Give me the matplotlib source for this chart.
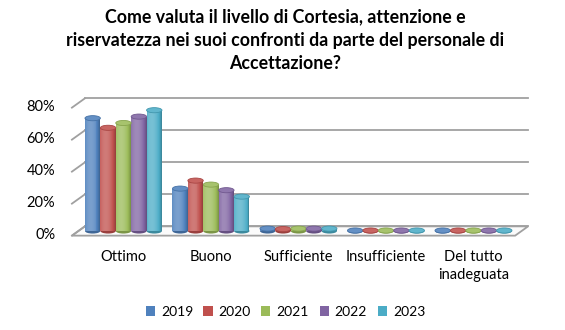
import numpy as np
import matplotlib
matplotlib.use('Agg')
import matplotlib.pyplot as plt
from matplotlib.patches import Ellipse, Polygon, Patch
from matplotlib.colors import to_rgb

plt.rcParams['font.family'] = ['Lato', 'DejaVu Sans']

# data (percent)
categories = ['Ottimo', 'Buono', 'Sufficiente', 'Insufficiente', 'Del tutto\ninadeguata']
years = ['2019', '2020', '2021', '2022', '2023']
v2019 = [70.5, 26.5, 1.5, 0.3, 0.3]
v2020 = [64.5, 31.5, 1.2, 0.3, 0.3]
v2021 = [67.5, 29.0, 1.5, 0.3, 0.3]
v2022 = [71.5, 25.5, 1.5, 0.3, 0.3]
v2023 = [75.5, 21.5, 1.5, 0.3, 0.3]
series = [v2019, v2020, v2021, v2022, v2023]
colors = ['#4F81BD', '#C0504D', '#9BBB59', '#8064A2', '#4BACC6']
yticks = [0, 20, 40, 60, 80]
title = ('Come valuta il livello di Cortesia, attenzione e\n'
         'riservatezza nei suoi confronti da parte del personale di\n'
         'Accettazione?')

# 3d-ish geometry (data units)
bw = 0.176          # bar width
ddx, ddy = 0.074, 2.9   # half depth offset
x0, x1 = -0.515, 4.55   # floor extent at mid depth
ell_h = 3.2         # ellipse height in %


def shade(c, s):
    c = np.array(to_rgb(c))
    if s >= 0:
        return tuple(c + (1 - c) * s)
    return tuple(c * (1 + s))


fig = plt.figure(figsize=(5.65, 3.3), dpi=100)
ax = fig.add_axes([0, 0, 1, 1])
ax.set_xlim(-1.411, 5.046)
ax.set_ylim(-61.875, 144.375)
ax.axis('off')

grid_c = '#A0A0A0'
# floor
floor = Polygon([(x0 - ddx, -ddy), (x1 - ddx, -ddy), (x1 + ddx, ddy), (x0 + ddx, ddy)],
                closed=True, facecolor='#FBFBFB', edgecolor=grid_c, lw=1.3, zorder=1)
ax.add_patch(floor)
# back wall gridlines + side wall
for t in yticks:
    ax.plot([x0 + ddx, x1 + ddx], [t + ddy, t + ddy], color=grid_c, lw=1.3, zorder=1)
    ax.plot([x0 - ddx, x0 + ddx], [t - ddy, t + ddy], color=grid_c, lw=1.3, zorder=1)
    ax.text(-0.78, t - ddy + 0.3, f'{t}%', ha='right', va='center', fontsize=10.5,
            color='black')

# cylinders
n = 16
t_strip = (np.arange(n) + 0.5) / n
s_strip = 0.24 - 1.2 * (t_strip - 0.36) ** 2
for j, vals in enumerate(series):
    for i, v in enumerate(vals):
        xc = i + (j - 2) * bw
        left = xc - bw / 2
        ax.add_patch(Ellipse((xc, 0), bw, ell_h, facecolor=shade(colors[j], -0.2),
                             edgecolor='none', zorder=2))
        for k in range(n):
            ax.bar(left + (k + 0.5) * bw / n, v, width=bw / n * 1.05, bottom=0,
                   color=shade(colors[j], s_strip[k]), linewidth=0,
                   antialiased=False, zorder=3)
        ax.add_patch(Ellipse((xc, v), bw, ell_h, facecolor=shade(colors[j], 0.12),
                             edgecolor=shade(colors[j], -0.12), lw=0.6, zorder=4))

for i, c in enumerate(categories):
    ax.text(i, -12, c, ha='center', va='top', fontsize=10.5, linespacing=1.3)

fig.text(0.505, 0.975, title, ha='center', va='top', fontsize=12.8,
         fontweight='bold', linespacing=1.45)

handles = [Patch(facecolor=c, edgecolor='none') for c in colors]
fig.legend(handles, years, loc='center', bbox_to_anchor=(0.505, 0.055), ncol=5,
           frameon=False, fontsize=10, handlelength=0.65, handleheight=0.65,
           handletextpad=0.45, columnspacing=0.75)

fig.savefig('out.png', dpi=100)
